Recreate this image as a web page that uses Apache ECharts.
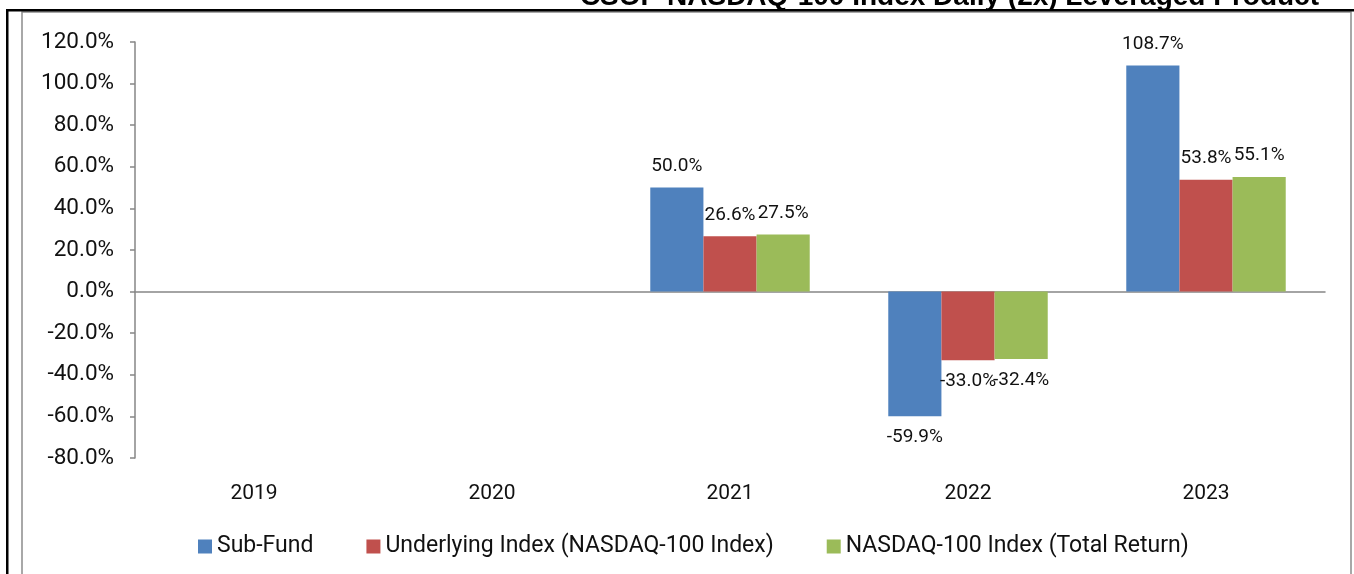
<!DOCTYPE html>
<html>
<head>
<meta charset="utf-8">
<script src="https://cdn.jsdelivr.net/npm/echarts@6/dist/echarts.min.js"></script>
<style>
  html, body { margin: 0; padding: 0; background: #fff; }
  #chart { width: 1354px; height: 574px; }
</style>
</head>
<body>
<div id="chart"></div>
<script>
// 年份和三组收益率(%)
const years = ['2019', '2020', '2021', '2022', '2023']
const subFund = [null, null, 50.0, -59.9, 108.7]
const underlyingIndex = [null, null, 26.6, -33.0, 53.8]
const totalReturn = [null, null, 27.5, -32.4, 55.1]
const seriesNames = ['Sub-Fund', 'Underlying Index (NASDAQ-100 Index)', 'NASDAQ-100 Index (Total Return)']
const colors = ['#4F81BD', '#C0504D', '#9BBB59']

const font = 'Roboto, "Open Sans", sans-serif'
const pct = v => v.toFixed(1) + '%'

// 负值标签放在柱子下方
const toData = arr => arr.map(v => v === null ? null : {
  value: v,
  label: { position: v < 0 ? 'bottom' : 'top' }
})

const chart = echarts.init(document.getElementById('chart'))
const option = {
  animation: false,
  title: {
    text: 'CSOP NASDAQ-100 Index Daily (2x) Leveraged Product',
    right: 30,
    top: -22,
    textStyle: { fontFamily: '"Liberation Sans", Arial, sans-serif', fontWeight: 'bold', fontSize: 28, color: '#000' }
  },
  graphic: [
    // 外框
    { type: 'rect', shape: { x: 22, y: 12, width: 1329, height: 570 }, style: { fill: 'none', stroke: '#8c8c8c', lineWidth: 1.5 } },
    { type: 'rect', shape: { x: 6, y: 9, width: 2.5, height: 570 }, style: { fill: '#000' } },
    { type: 'rect', shape: { x: 6, y: 9, width: 1348, height: 2.5 }, style: { fill: '#000' } }
  ],
  legend: {
    bottom: 11,
    left: 193,
    itemWidth: 14,
    itemHeight: 14,
    itemGap: 53,
    icon: 'rect',
    textStyle: { fontFamily: font, fontSize: 23, color: '#111' },
    data: seriesNames
  },
  grid: { left: 135, right: 29, top: 42, bottom: 116 },
  xAxis: {
    type: 'category',
    data: years,
    axisLine: { onZero: true, lineStyle: { color: '#868686', width: 1.5 } },
    axisTick: { length: 6, lineStyle: { color: '#868686', width: 1.5 } },
    axisLabel: { fontFamily: font, fontSize: 21, color: '#111', margin: 25 },
    position: 'bottom'
  },
  yAxis: {
    type: 'value',
    min: -80,
    max: 120,
    interval: 20,
    splitLine: { show: false },
    axisLine: { show: true, lineStyle: { color: '#868686', width: 1.5 } },
    axisTick: { show: true, length: 5, lineStyle: { color: '#868686', width: 1.5 } },
    axisLabel: { fontFamily: font, fontSize: 22.5, color: '#111', margin: 21, formatter: pct }
  },
  series: [subFund, underlyingIndex, totalReturn].map((arr, i) => ({
    name: seriesNames[i],
    type: 'bar',
    data: toData(arr),
    barGap: '0%',
    barCategoryGap: '33%',
    itemStyle: { color: colors[i] },
    label: {
      show: true,
      distance: 12,
      fontFamily: font,
      fontSize: 19,
      color: '#111',
      formatter: p => pct(p.value)
    }
  }))
}
chart.setOption(option)
</script>
</body>
</html>
